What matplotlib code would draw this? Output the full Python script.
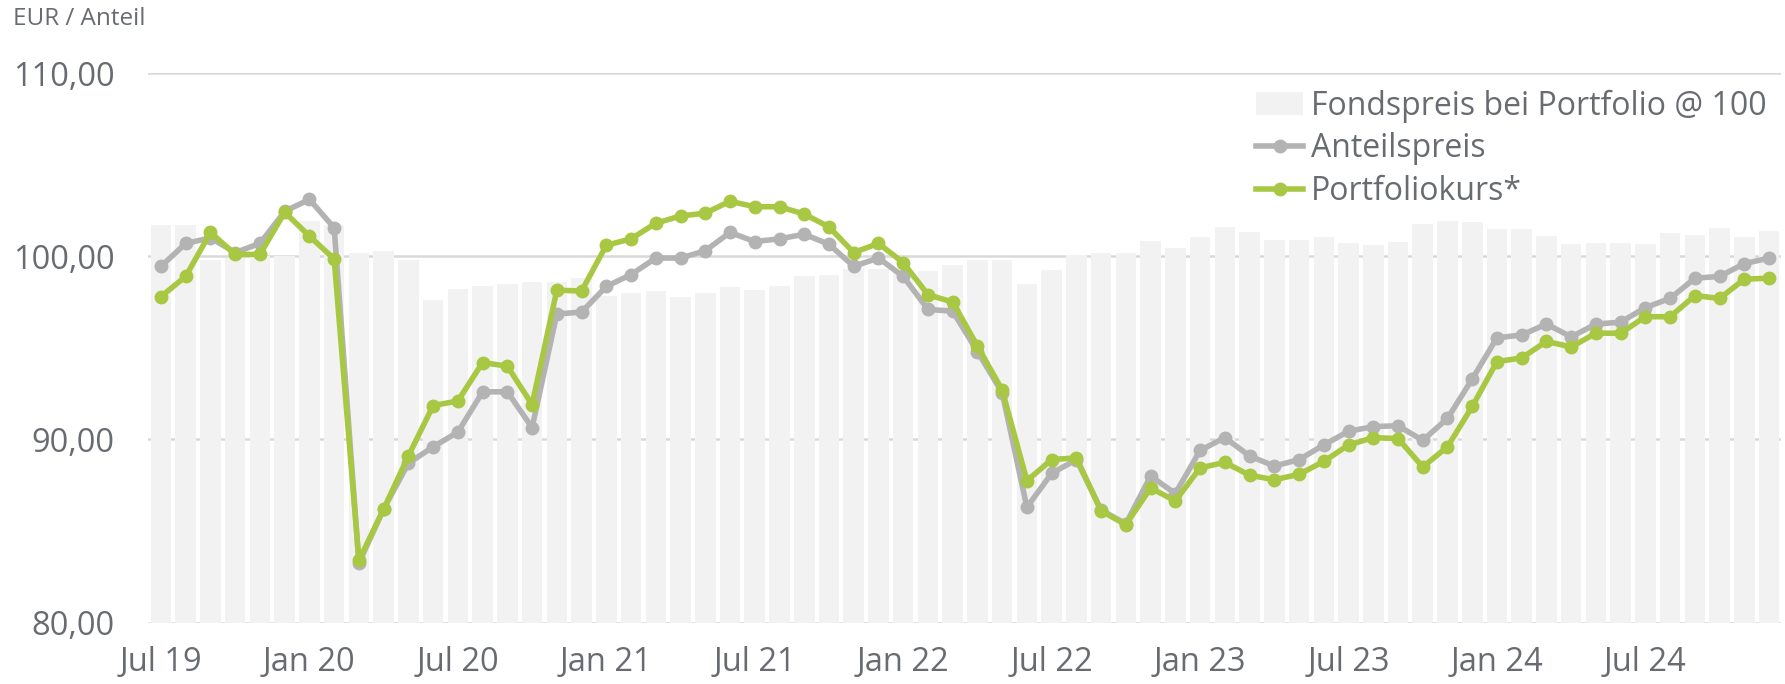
import matplotlib
matplotlib.use("Agg")
import matplotlib.pyplot as plt
import numpy as np
from matplotlib.ticker import FuncFormatter

# monthly values Jul 19 .. Dec 24
months = ["Jul 19", "Aug 19", "Sep 19", "Oct 19", "Nov 19", "Dec 19",
          "Jan 20", "Feb 20", "Mar 20", "Apr 20", "May 20", "Jun 20",
          "Jul 20", "Aug 20", "Sep 20", "Oct 20", "Nov 20", "Dec 20",
          "Jan 21", "Feb 21", "Mar 21", "Apr 21", "May 21", "Jun 21",
          "Jul 21", "Aug 21", "Sep 21", "Oct 21", "Nov 21", "Dec 21",
          "Jan 22", "Feb 22", "Mar 22", "Apr 22", "May 22", "Jun 22",
          "Jul 22", "Aug 22", "Sep 22", "Oct 22", "Nov 22", "Dec 22",
          "Jan 23", "Feb 23", "Mar 23", "Apr 23", "May 23", "Jun 23",
          "Jul 23", "Aug 23", "Sep 23", "Oct 23", "Nov 23", "Dec 23",
          "Jan 24", "Feb 24", "Mar 24", "Apr 24", "May 24", "Jun 24",
          "Jul 24", "Aug 24", "Sep 24", "Oct 24", "Nov 24", "Dec 24"]

fondspreis = [101.7, 101.7, 99.8, 99.9, 100.0, 100.0, 101.9, 101.7, 100.2, 100.3,
              99.8, 97.6, 98.2, 98.35, 98.5, 98.6, 98.6, 98.8, 97.85, 98.0,
              98.1, 97.8, 98.0, 98.3, 98.15, 98.35, 98.9, 99.0, 99.3, 99.3,
              99.2, 99.2, 99.5, 99.8, 99.8, 98.5, 99.25, 100.05, 100.2, 100.2,
              100.85, 100.45, 101.05, 101.6, 101.3, 100.9, 100.87, 101.04, 100.73, 100.64,
              100.78, 101.77, 101.95, 101.88, 101.46, 101.49, 101.13, 100.69, 100.73, 100.73,
              100.69, 101.28, 101.18, 101.55, 101.06, 101.4]

anteilspreis = [99.45, 100.7, 101.0, 100.2, 100.7, 102.45, 103.1, 101.55, 83.25, 86.2,
                88.7, 89.6, 90.4, 92.6, 92.6, 90.65, 96.85, 96.95, 98.35, 99.0,
                99.9, 99.9, 100.3, 101.3, 100.8, 100.95, 101.2, 100.65, 99.45, 99.9,
                98.9, 97.1, 97.0, 94.8, 92.55, 86.3, 88.15, 88.9, 86.15, 85.4,
                88.0, 87.05, 89.4, 90.1, 89.1, 88.55, 88.9, 89.7, 90.45, 90.7,
                90.75, 89.95, 91.15, 93.3, 95.55, 95.7, 96.3, 95.6, 96.3, 96.4,
                97.2, 97.7, 98.8, 98.9, 99.6, 99.9]

portfoliokurs = [97.8, 98.9, 101.3, 100.1, 100.1, 102.4, 101.1, 99.85, 83.4, 86.2,
                 89.1, 91.85, 92.1, 94.2, 94.0, 91.9, 98.15, 98.1, 100.6, 100.95,
                 101.8, 102.2, 102.35, 103.0, 102.7, 102.7, 102.3, 101.6, 100.2, 100.7,
                 99.65, 97.9, 97.5, 95.1, 92.7, 87.75, 88.9, 89.0, 86.1, 85.35,
                 87.35, 86.65, 88.45, 88.75, 88.05, 87.8, 88.1, 88.8, 89.7, 90.1,
                 90.05, 88.5, 89.6, 91.8, 94.25, 94.45, 95.35, 95.05, 95.8, 95.8,
                 96.7, 96.7, 97.85, 97.7, 98.75, 98.8]

y_ticks = [80, 90, 100, 110]

GREEN = "#a8c843"
GREY = "#b3b3b3"
BAR = "#f2f2f2"
TEXT = "#686c70"
GRID = "#d9d9d9"

plt.rcParams["font.family"] = ["Open Sans", "DejaVu Sans"]

fig = plt.figure(figsize=(17.85, 6.84), dpi=100)
ax = fig.add_axes([148 / 1785, 1 - 622.7 / 684, (1781 - 148) / 1785, (622.7 - 73) / 684])

x = np.arange(len(months))
bars = ax.bar(x, np.array(fondspreis) - 80, bottom=80, width=0.83, color=BAR, zorder=2,
              label="Fondspreis bei Portfolio @ 100")
l1, = ax.plot(x, anteilspreis, color=GREY, lw=4, marker="o", ms=9, zorder=3,
              label="Anteilspreis")
l2, = ax.plot(x, portfoliokurs, color=GREEN, lw=4, marker="o", ms=9, zorder=4,
              label="Portfoliokurs*")

ax.set_xlim(-0.525, len(months) - 0.52)
ax.set_ylim(80, 110)
ax.set_yticks(y_ticks)
ax.yaxis.set_major_formatter(FuncFormatter(lambda v, p: f"{v:.2f}".replace(".", ",")))
ax.set_xticks(x[::6])
ax.set_xticklabels(months[::6])
ax.tick_params(axis="both", length=0, labelsize=23.5, colors=TEXT)
ax.tick_params(axis="y", pad=24)
ax.tick_params(axis="x", pad=17)
for s in ax.spines.values():
    s.set_visible(False)
ax.grid(axis="y", color=GRID, lw=1.8, zorder=1)
ax.set_axisbelow(True)

leg = ax.legend(handles=[bars, l1, l2], loc="upper right", bbox_to_anchor=(0.991, 0.97),
                frameon=False, fontsize=23, handlelength=1.45, handletextpad=0.25,
                labelspacing=0.3, borderaxespad=0, borderpad=0)
for t in leg.get_texts():
    t.set_color(TEXT)

fig.text(13 / 1785, 1 - 19 / 684, "EUR / Anteil", fontsize=17.5, color=TEXT,
         va="center", ha="left")

fig.savefig("out.png", dpi=100)
